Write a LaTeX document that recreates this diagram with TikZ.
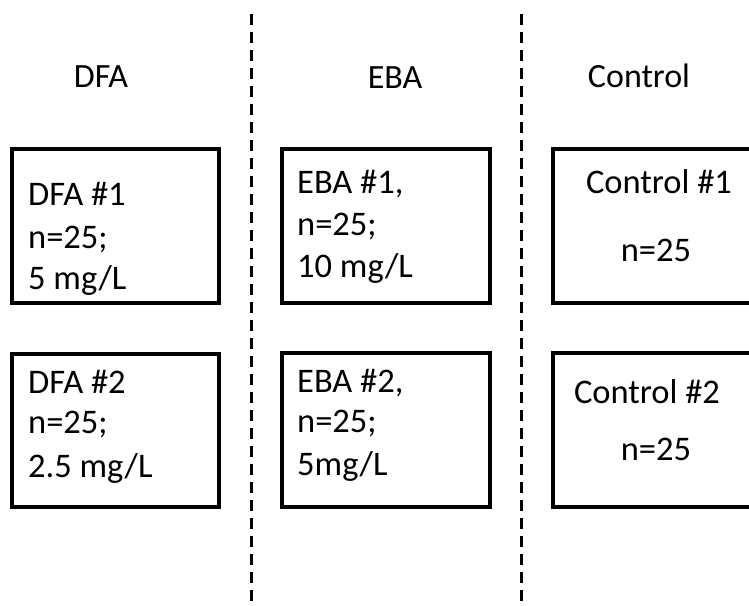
\documentclass[tikz,border=0pt]{standalone}
\usepackage{fontspec}
\setmainfont{Carlito}
\begin{document}
\begin{tikzpicture}[x=1pt,y=-1pt,
  grp/.style={draw=black, line width=3.4pt, line join=miter, inner sep=0pt, outer sep=0pt},
  sep/.style={draw=black, line width=3pt, dash pattern=on 11pt off 7pt},
  txt/.style={font=\fontsize{34.5}{42}\selectfont, anchor=base west, inner sep=0pt},
  ctxt/.style={font=\fontsize{34.5}{42}\selectfont, anchor=base, inner sep=0pt},
  ttl/.style={font=\fontsize{34}{42}\selectfont, anchor=base, inner sep=0pt}]
\path[use as bounding box, clip] (0,0) rectangle (749,605);
% separators
\coordinate (s1top) at (251,14);
\coordinate (s1bot) at (251,606);
\coordinate (s2top) at (521,14);
\coordinate (s2bot) at (521,606);
\draw[sep] (s1top) -- (s1bot);
\draw[sep] (s2top) -- (s2bot);
% titles
\node[ttl] (tdfa) at (101,87) {DFA};
\node[ttl] (teba) at (395,88) {EBA};
\node[ttl] (tctl) at (639,87) {Control};
% boxes
\node[grp, minimum width=207pt, minimum height=154pt] (dfa1) at (115.5,226) {};
\node[grp, minimum width=207pt, minimum height=153pt] (dfa2) at (115.5,430.5) {};
\node[grp, minimum width=208pt, minimum height=154pt] (eba1) at (386,226) {};
\node[grp, minimum width=208pt, minimum height=154pt] (eba2) at (386,430) {};
\node[grp, minimum width=207pt, minimum height=154pt] (ctl1) at (656.5,226) {};
\node[grp, minimum width=207pt, minimum height=154pt] (ctl2) at (656.5,430) {};
% DFA texts
\node[txt] (d1a) at (28,205) {DFA \#1};
\node[txt] (d1b) at (28,248) {n=25;};
\node[txt] (d1c) at (28,289) {5 mg/L};
\node[txt] (d2a) at (28,393) {DFA \#2};
\node[txt] (d2b) at (28,433) {n=25;};
\node[txt] (d2c) at (28,477) {2.5 mg/L};
% EBA texts
\node[txt] (e1a) at (297,193) {EBA \#1,};
\node[txt] (e1b) at (297,235) {n=25;};
\node[txt] (e1c) at (297,277) {10 mg/L};
\node[txt] (e2a) at (297,392) {EBA \#2,};
\node[txt] (e2b) at (297,432) {n=25;};
\node[txt] (e2c) at (297,475) {5mg/L};
% Control texts
\node[ctxt] (c1a) at (659,193) {Control \#1};
\node[ctxt] (c1b) at (656,261) {n=25};
\node[ctxt] (c2a) at (647,403) {Control \#2};
\node[ctxt] (c2b) at (656,460) {n=25};
\end{tikzpicture}
\end{document}
